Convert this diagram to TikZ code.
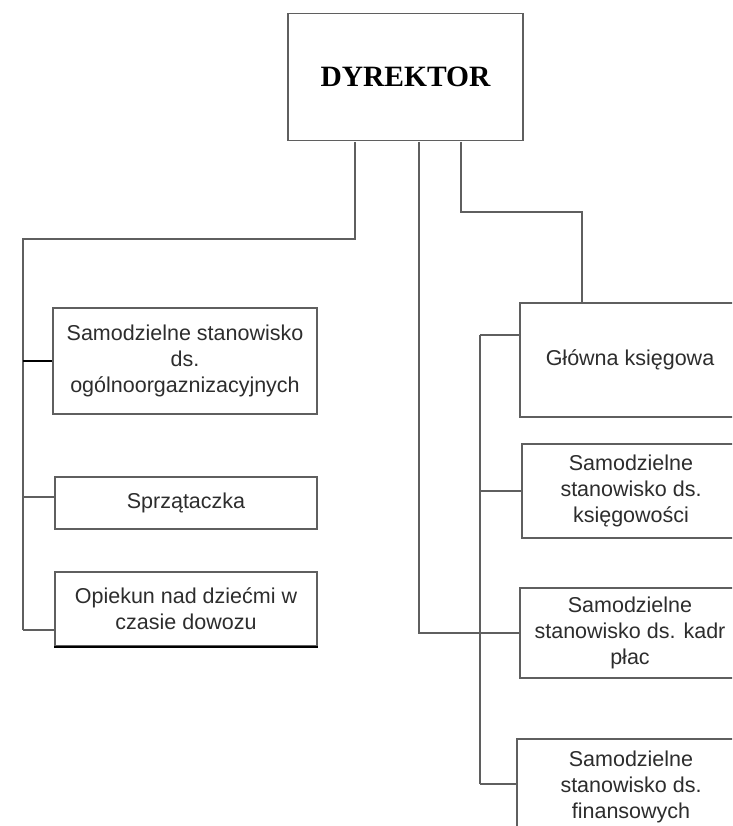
\documentclass[tikz,border=0pt]{standalone}
\usepackage{fontspec}
\setmainfont{Liberation Sans}
\newfontfamily\serifbold{Liberation Serif}
\tikzset{
  ln/.style={draw={rgb,255:red,95;green,95;blue,95}, line width=1.5pt},
  dk/.style={draw=black, line width=2.2pt},
  box/.style={ln, rectangle, inner sep=0pt, align=center, text={rgb,255:red,45;green,45;blue,45},
     font=\fontsize{21.5}{26}\selectfont},
}
\begin{document}
\begin{tikzpicture}[x=1pt,y=-1pt]
\useasboundingbox (0,0) rectangle (732,826);
\clip (0,0) rectangle (732,826);
\fill[white] (0,0) rectangle (732,826);
% director
\node[box, minimum width=235, minimum height=127, text=black, font=\serifbold\bfseries\fontsize{29.5}{32}\selectfont] (dir) at (405.5,77) {DYREKTOR};
% left column
\node[box, minimum width=264, minimum height=106] (b1) at (185,361) {Samodzielne stanowisko\\ds.\\ogólnoorgaznizacyjnych};
\node[box, minimum width=262, minimum height=52] (b2) at (186,503) {Sprzątaczka};
\node[box, minimum width=262, minimum height=74] (b3) at (186,609) {Opiekun nad dziećmi w\\czasie dowozu};
% right column
\node[box, minimum width=220, minimum height=114] (r1) at (630,360) {Główna księgowa};
\node[box, minimum width=218, minimum height=94] (r2) at (631,491) {Samodzielne\\stanowisko ds.\\księgowości};
\node[box, minimum width=220, minimum height=90] (r3) at (630,633) {Samodzielne\\stanowisko ds. kadr\\płac};
\node[box, minimum width=228, minimum height=95] (r4) at (631,786.5) {Samodzielne\\stanowisko ds.\\finansowych};
% thicker bottom edge of b3
\draw[dk] (b3.south west) -- (b3.south east);
% branch points
\coordinate (aT) at (355,142);
\coordinate (aB) at (355,239);
\coordinate (lT) at (23,239);
\coordinate (lB) at (23,630);
\coordinate (bT) at (419,142);
\coordinate (cT) at (461,142);
\coordinate (cM) at (461,212);
\coordinate (cR) at (582,212);
\coordinate (rT) at (480,335);
\coordinate (rB) at (480,784);
% left branch
\draw[ln] (aT) -- (aB) -- (lT) -- (lB);
\draw[dk] (lT |- b1.west) -- (b1.west);
\draw[ln] (23,497) -- (b2.west |- 0,497);
\draw[ln] (lB) -- (b3.west |- lB);
% middle branch
\draw[ln] (bT) |- (r3.west);
% right branch
\draw[ln] (cT) -- (cM) -- (cR) -- (cR |- r1.north);
\draw[ln] (rT) -- (rB);
\draw[ln] (rT) -- (rT -| r1.west);
\draw[ln] (rT |- r2.west) -- (r2.west);
\draw[ln] (rB) -- (rB -| r4.west);
\end{tikzpicture}
\end{document}
